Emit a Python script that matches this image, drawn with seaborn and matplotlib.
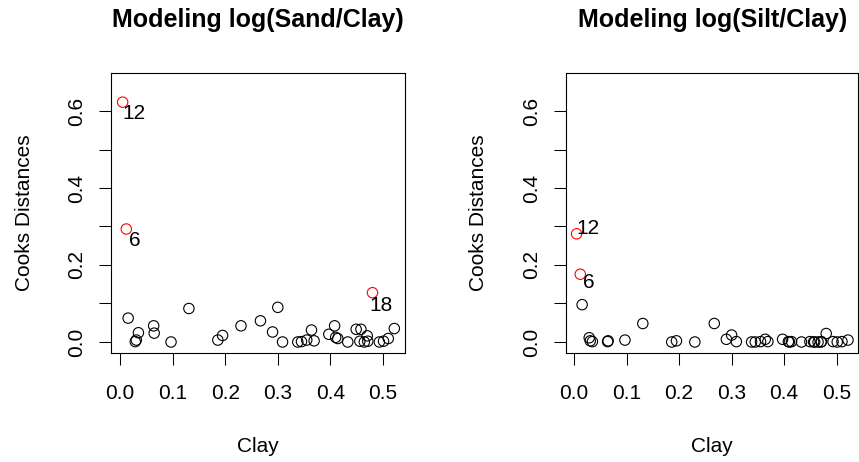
import matplotlib
matplotlib.use("Agg")
import matplotlib.pyplot as plt
import seaborn as sns
import numpy as np
import pandas as pd

# ---- data ----
clay = [0.005, 0.012, 0.0155, 0.029, 0.031, 0.035, 0.064, 0.065, 0.097, 0.131,
        0.186, 0.195, 0.230, 0.267, 0.290, 0.300, 0.309, 0.338, 0.345, 0.355,
        0.364, 0.369, 0.397, 0.408, 0.410, 0.414, 0.433, 0.449, 0.456, 0.458,
        0.4645, 0.470, 0.471, 0.480, 0.493, 0.501, 0.510, 0.5215]
cooks_sand = [0.623, 0.2935, 0.062, 0.001, 0.005, 0.024, 0.042, 0.023, 0.000, 0.087,
              0.005, 0.017, 0.042, 0.055, 0.026, 0.090, 0.000, 0.000, 0.001, 0.005,
              0.031, 0.003, 0.020, 0.042, 0.012, 0.009, 0.000, 0.033, 0.002, 0.033,
              0.000, 0.016, 0.002, 0.128, 0.000, 0.002, 0.009, 0.035]
cooks_silt = [0.281, 0.176, 0.097, 0.011, 0.003, 0.001, 0.001, 0.003, 0.005, 0.048,
              0.000, 0.003, 0.000, 0.048, 0.007, 0.018, 0.001, 0.000, 0.000, 0.001,
              0.007, 0.001, 0.007, 0.001, 0.000, 0.001, 0.000, 0.001, 0.000, 0.000,
              0.000, 0.000, 0.001, 0.022, 0.001, 0.000, 0.001, 0.005]
obs_id = [12, 6, 0, 0, 0, 0, 0, 0, 0, 0, 0, 0, 0, 0, 0, 0, 0, 0, 0, 0,
          0, 0, 0, 0, 0, 0, 0, 0, 0, 0, 0, 0, 0, 18, 0, 0, 0, 0]
flag_sand = [12, 6, 18]
flag_silt = [12, 6]
titles = ["Modeling log(Sand/Clay)", "Modeling log(Silt/Clay)"]
xticks = [0.0, 0.1, 0.2, 0.3, 0.4, 0.5]
yticks = [0.0, 0.2, 0.4, 0.6]
yminor = [0.1, 0.3, 0.5]

# label offsets in pixels (dx, dy)
label_off_sand = {12: (0, -17.3), 6: (2.3, -17), 18: (-3, -18)}
label_off_silt = {12: (0, -0.3), 6: (2.7, -14)}

sns.set_style("white")
plt.rcParams["font.family"] = ["Liberation Sans", "DejaVu Sans"]
plt.rcParams["text.color"] = "black"
plt.rcParams["axes.labelcolor"] = "black"
plt.rcParams["xtick.color"] = "black"
plt.rcParams["ytick.color"] = "black"

W, H = 859, 462
fig = plt.figure(figsize=(W / 100, H / 100), dpi=100)

FS = 15
panels = [
    dict(box=(111.5, 405.0), xlim=(-0.01616, 0.5418), y=cooks_sand, flags=flag_sand, off=label_off_sand),
    dict(box=(566.0, 858.3), xlim=(-0.0152, 0.5411), y=cooks_silt, flags=flag_silt, off=label_off_silt),
]
top_px, bot_px = 72.7, 352.5

for i, p in enumerate(panels):
    l, r = p["box"]
    ax = fig.add_axes([l / W, 1 - bot_px / H, (r - l) / W, (bot_px - top_px) / H])
    df = pd.DataFrame({"Clay": clay, "Cooks": p["y"], "id": obs_id})
    df["flag"] = df["id"].isin(p["flags"])
    normal = df[~df["flag"]]
    flagged = df[df["flag"]]
    sns.scatterplot(data=normal, x="Clay", y="Cooks", ax=ax, marker="o", s=56,
                    facecolor="none", edgecolor="black", linewidth=0.8, legend=False)
    sns.scatterplot(data=flagged, x="Clay", y="Cooks", ax=ax, marker="o", s=56,
                    facecolor="none", edgecolor="red", linewidth=0.8, legend=False)
    for _, row in flagged.iterrows():
        dx, dy = p["off"][int(row["id"])]
        ax.annotate(str(int(row["id"])), (row["Clay"], row["Cooks"]),
                    xytext=(dx, dy), textcoords="offset pixels",
                    ha="left", va="baseline", fontsize=FS, color="black")
    ax.set_xlim(*p["xlim"])
    ax.set_ylim(-0.0273, 0.6995)
    ax.set_xticks(xticks)
    ax.set_xticklabels([f"{t:.1f}" for t in xticks])
    ax.set_yticks(yticks)
    ax.set_yticklabels([f"{t:.1f}" for t in yticks], rotation=90, va="center")
    ax.set_yticks(yminor, minor=True)
    ax.tick_params(axis="both", which="both", direction="out", length=8.3, width=0.75,
                   color="black", labelsize=FS, labelcolor="black")
    ax.tick_params(axis="x", which="major", pad=14.2, bottom=True)
    ax.tick_params(axis="y", which="both", pad=9.8, left=True)
    for s in ax.spines.values():
        s.set_visible(True)
        s.set_color("black")
        s.set_linewidth(0.8)
    ax.set_xlabel("")
    ax.set_ylabel("")
    ax.grid(False)
    # x label
    ax.text(0.5, (bot_px - 451.5) / (bot_px - top_px), "Clay", transform=ax.transAxes,
            ha="center", va="baseline", fontsize=FS, color="black")
    # y label
    fig.text((l - 81.5) / W, 1 - ((top_px + bot_px) / 2) / H, "Cooks Distances",
             rotation=90, rotation_mode="anchor", ha="center", va="baseline",
             fontsize=FS, color="black")
    # title
    ax.text(0.5, (bot_px - 27.3) / (bot_px - top_px), titles[i], transform=ax.transAxes,
            ha="center", va="baseline", fontsize=18, fontweight="bold", color="black")

fig.savefig("out.png", dpi=100, facecolor="white")
